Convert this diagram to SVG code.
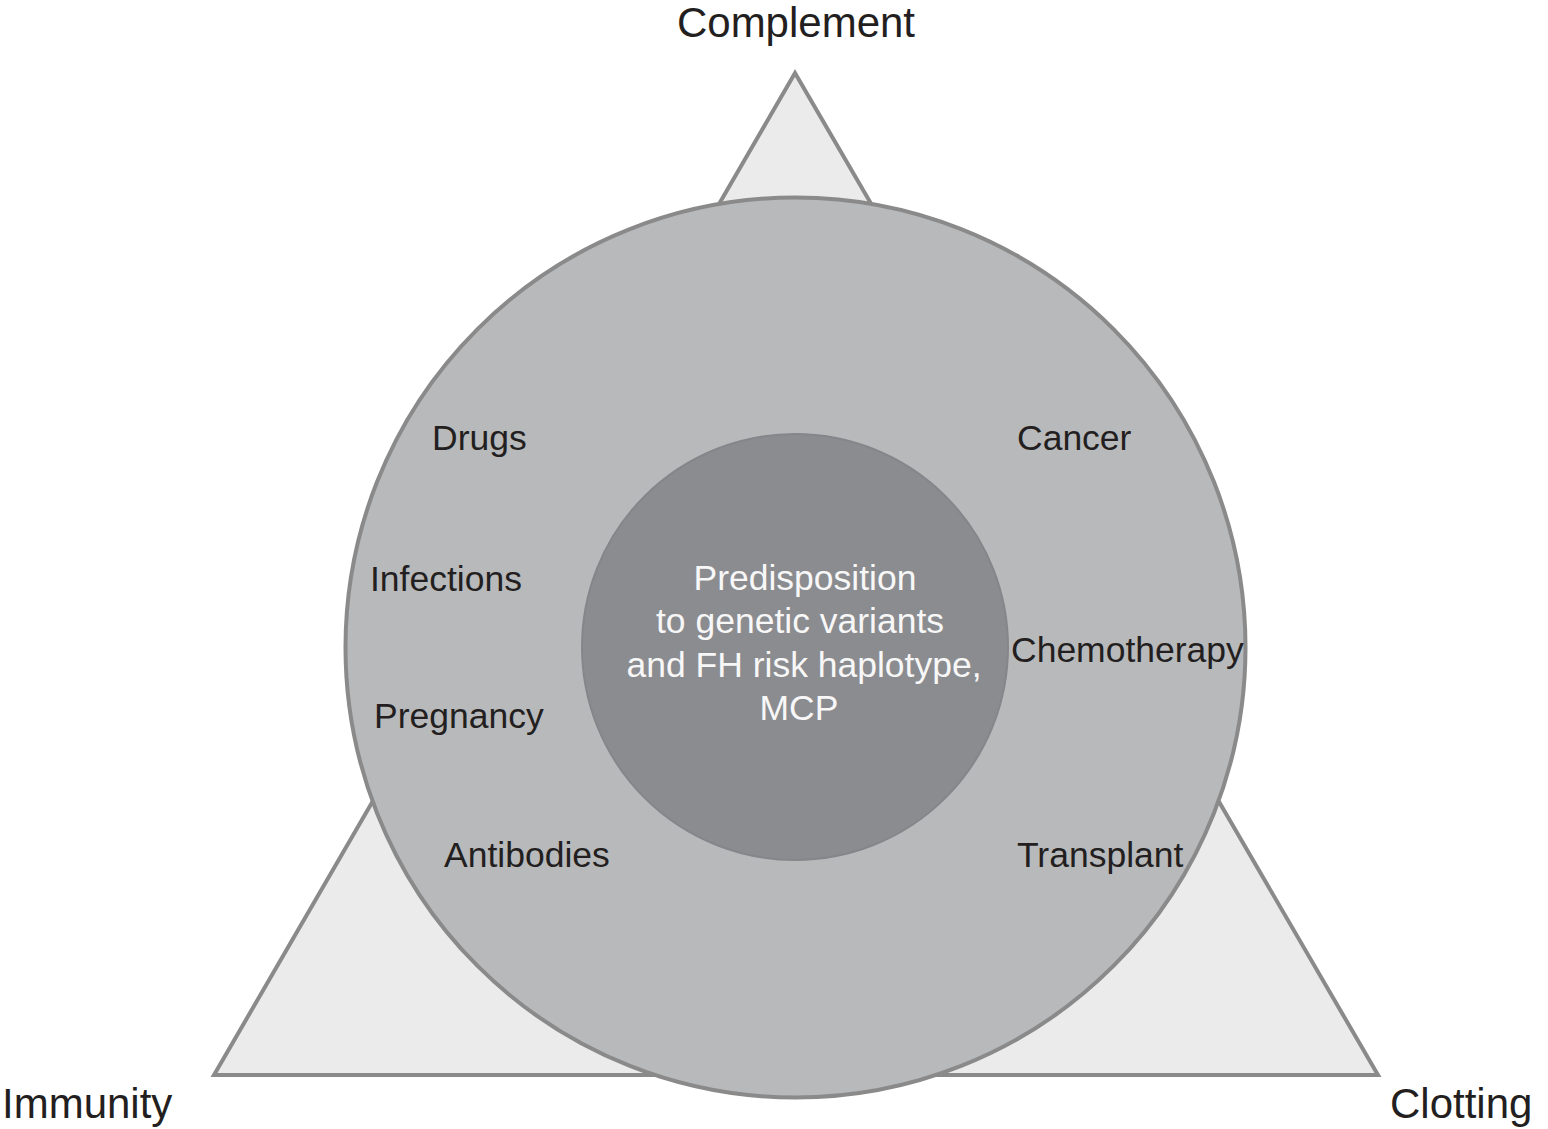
<svg xmlns="http://www.w3.org/2000/svg" width="1548" height="1129" viewBox="0 0 1548 1129">
<style>
  .tri { fill: #ebebeb; stroke: #8a8a8a; stroke-width: 4; stroke-linejoin: miter; }
  .outer { fill: #b8b9bb; stroke: #8a8a8a; stroke-width: 4; }
  .inner { fill: #8b8c90; stroke: #85868a; stroke-width: 2; }
  .lbl { font-family: "Liberation Sans", Arial, Helvetica, sans-serif; font-size: 35.5px; fill: #231f20; }
  .corner { font-family: "Liberation Sans", Arial, Helvetica, sans-serif; font-size: 42px; fill: #231f20; }
  .core { font-family: "Liberation Sans", Arial, Helvetica, sans-serif; font-size: 35.5px; fill: #f7f7f7; text-anchor: middle; }
</style>
<rect width="1548" height="1129" fill="#ffffff"/>
<g id="triangle">
  <polygon class="tri" points="795,73 214,1075 1378,1075"/>
</g>
<g id="corner-labels">
  <text id="complement" class="corner" x="796" y="37" text-anchor="middle">Complement</text>
  <text id="immunity" class="corner" x="2" y="1118">Immunity</text>
  <text id="clotting" class="corner" x="1390" y="1118">Clotting</text>
</g>
<g id="outer-circle">
  <circle class="outer" cx="795.5" cy="647.5" r="450"/>
</g>
<g id="factors">
  <text id="drugs" class="lbl" x="432" y="450">Drugs</text>
  <text id="infections" class="lbl" x="370" y="591">Infections</text>
  <text id="pregnancy" class="lbl" x="374" y="728">Pregnancy</text>
  <text id="antibodies" class="lbl" x="444" y="867">Antibodies</text>
  <text id="cancer" class="lbl" x="1017" y="450">Cancer</text>
  <text id="chemotherapy" class="lbl" x="1011" y="662">Chemotherapy</text>
  <text id="transplant" class="lbl" x="1017" y="867">Transplant</text>
</g>
<g id="inner-circle">
  <circle class="inner" cx="795" cy="647" r="213"/>
  <text class="core" x="805" y="590">Predisposition</text>
  <text class="core" x="800" y="633">to genetic variants</text>
  <text class="core" x="804" y="677">and FH risk haplotype,</text>
  <text class="core" x="799" y="720">MCP</text>
</g>
<g id="connectors"></g>
</svg>
